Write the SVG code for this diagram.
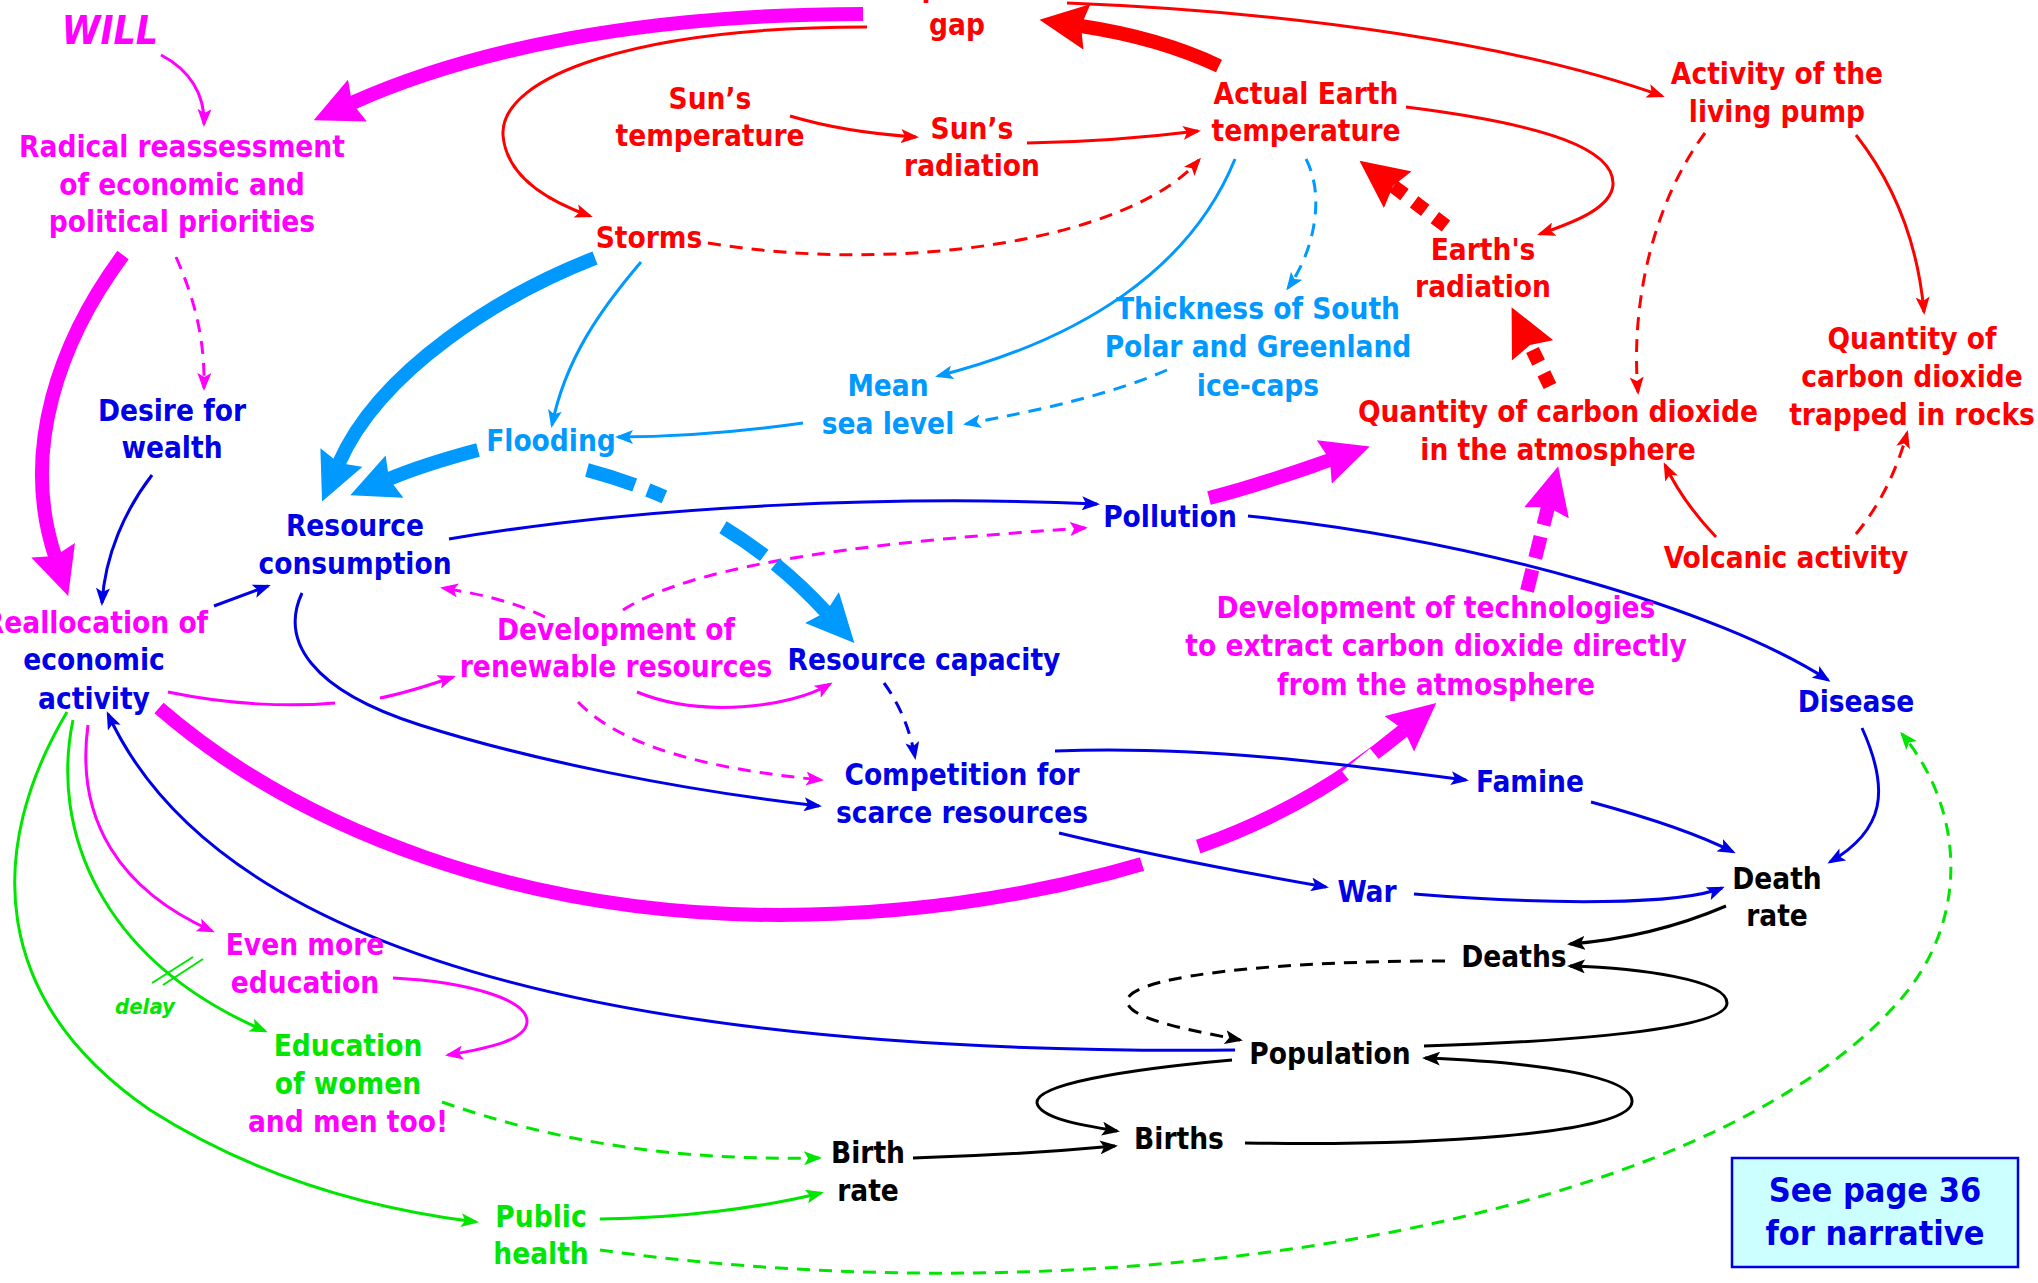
<svg xmlns="http://www.w3.org/2000/svg" width="2038" height="1283" viewBox="0 0 2038 1283">
<style>
text{font-family:"DejaVu Sans Condensed","DejaVu Sans",sans-serif;font-stretch:condensed;font-weight:bold;font-size:29.5px;text-anchor:middle}
.r{fill:#ff0000}.m{fill:#ff00ff}.l{fill:#0099ff}.b{fill:#0000e6}.k{fill:#000}.g{fill:#00e600}
path{fill:none;stroke-width:3}
.sr{stroke:#ff0000}.sm{stroke:#ff00ff}.sl{stroke:#0099ff}.sb{stroke:#0000e6}.sk{stroke:#000}.sg{stroke:#00e600}
.d{stroke-dasharray:13 9}
.t{stroke-width:14}
</style>
<defs>
<marker id="aR" viewBox="0 0 18 14" refX="15" refY="7" markerWidth="18" markerHeight="14" markerUnits="userSpaceOnUse" orient="auto"><path d="M0,0L18,7L0,14L4,7z" style="fill:#ff0000;stroke:none"/></marker>
<marker id="aM" viewBox="0 0 18 14" refX="15" refY="7" markerWidth="18" markerHeight="14" markerUnits="userSpaceOnUse" orient="auto"><path d="M0,0L18,7L0,14L4,7z" style="fill:#ff00ff;stroke:none"/></marker>
<marker id="aL" viewBox="0 0 18 14" refX="15" refY="7" markerWidth="18" markerHeight="14" markerUnits="userSpaceOnUse" orient="auto"><path d="M0,0L18,7L0,14L4,7z" style="fill:#0099ff;stroke:none"/></marker>
<marker id="aB" viewBox="0 0 18 14" refX="15" refY="7" markerWidth="18" markerHeight="14" markerUnits="userSpaceOnUse" orient="auto"><path d="M0,0L18,7L0,14L4,7z" style="fill:#0000e6;stroke:none"/></marker>
<marker id="aK" viewBox="0 0 18 14" refX="15" refY="7" markerWidth="18" markerHeight="14" markerUnits="userSpaceOnUse" orient="auto"><path d="M0,0L18,7L0,14L4,7z" style="fill:#000;stroke:none"/></marker>
<marker id="aG" viewBox="0 0 18 14" refX="15" refY="7" markerWidth="18" markerHeight="14" markerUnits="userSpaceOnUse" orient="auto"><path d="M0,0L18,7L0,14L4,7z" style="fill:#00e600;stroke:none"/></marker>
<marker id="bR" viewBox="0 0 48 46" refX="6" refY="23" markerWidth="48" markerHeight="46" markerUnits="userSpaceOnUse" orient="auto"><path d="M0,0L48,23L0,46L6,23z" style="fill:#ff0000;stroke:none"/></marker>
<marker id="bM" viewBox="0 0 48 46" refX="6" refY="23" markerWidth="48" markerHeight="46" markerUnits="userSpaceOnUse" orient="auto"><path d="M0,0L48,23L0,46L6,23z" style="fill:#ff00ff;stroke:none"/></marker>
<marker id="bL" viewBox="0 0 48 46" refX="6" refY="23" markerWidth="48" markerHeight="46" markerUnits="userSpaceOnUse" orient="auto"><path d="M0,0L48,23L0,46L6,23z" style="fill:#0099ff;stroke:none"/></marker>
</defs>

<g id="connectors">
<!-- thick magenta reallocation -> technologies, with gaps -->
<path class="sm t" d="M159,708 C300,830 520,915 780,915 C960,915 1100,880 1200,846 C1280,818 1350,775 1404,730" marker-end="url(#bM)"/>
<path d="M1142,864 L1198,846" style="stroke:#fff;stroke-width:22"/>
<path d="M1349,780 L1377,757" style="stroke:#fff;stroke-width:22"/>

<!-- red -->
<path class="sr t" d="M1219,66 Q1160,38 1081,26" marker-end="url(#bR)"/>
<path class="sr" d="M867,27 C640,27 500,75 503,135 C506,175 545,200 590,216" marker-end="url(#aR)"/>
<path class="sr" d="M1067,3 C1300,12 1520,45 1662,96" marker-end="url(#aR)"/>
<path class="sr" d="M790,116 C830,128 870,134 916,137" marker-end="url(#aR)"/>
<path class="sr" d="M1027,143 C1090,142 1150,137 1198,131" marker-end="url(#aR)"/>
<path class="sr d" d="M708,243 C900,275 1130,240 1199,160" marker-end="url(#aR)"/>
<path class="sr" d="M1406,107 C1550,125 1615,150 1613,185 C1611,208 1575,222 1540,234" marker-end="url(#aR)"/>
<path class="sr t" style="stroke-dasharray:14 12" d="M1446,226 L1393,186" marker-end="url(#bR)"/>
<path class="sr t" style="stroke-dasharray:14 12" d="M1550,386 L1530,345" marker-end="url(#bR)"/>
<path class="sr d" d="M1705,133 C1655,200 1630,300 1638,392" marker-end="url(#aR)"/>
<path class="sr" d="M1856,135 C1895,185 1918,245 1924,312" marker-end="url(#aR)"/>
<path class="sr" d="M1716,537 C1695,515 1678,492 1665,465" marker-end="url(#aR)"/>
<path class="sr d" d="M1856,534 C1880,505 1897,470 1907,433" marker-end="url(#aR)"/>

<!-- magenta -->
<path class="sm t" d="M863,14 C640,14 470,50 352,103" marker-end="url(#bM)"/>
<path class="sm" d="M161,55 C190,70 205,95 204,124" marker-end="url(#aM)"/>
<path class="sm d" d="M176,257 C195,300 205,340 204,388" marker-end="url(#aM)"/>
<path class="sm t" d="M123,255 C60,340 20,450 55,556" marker-end="url(#bM)"/>
<path class="sm d" d="M545,617 C515,602 480,594 443,588" marker-end="url(#aM)"/>
<path class="sm d" d="M623,610 C700,560 900,540 1085,528" marker-end="url(#aM)"/>
<path class="sm" d="M637,692 C700,718 790,708 830,684" marker-end="url(#aM)"/>
<path class="sm d" d="M578,702 C620,745 700,768 821,780" marker-end="url(#aM)"/>
<path class="sm" d="M168,692 C230,705 290,707 335,703"/>
<path class="sm" d="M380,698 C405,693 430,685 453,677" marker-end="url(#aM)"/>
<path class="sm" d="M88,725 C75,820 120,890 212,931" marker-end="url(#aM)"/>
<path class="sm" d="M393,978 C470,982 528,1000 527,1022 C526,1040 490,1048 448,1055" marker-end="url(#aM)"/>
<path class="sm t" style="stroke-dasharray:22 12" d="M1527,591 L1548,507" marker-end="url(#bM)"/>
<path class="sm t" d="M1209,498 C1260,485 1295,472 1330,460" marker-end="url(#bM)"/>

<!-- light blue -->
<path class="sl t" d="M595,258 C500,295 380,370 339,463" marker-end="url(#bL)"/>
<path class="sl" d="M641,262 C600,310 565,360 552,425" marker-end="url(#aL)"/>
<path class="sl t" d="M478,450 C448,458 420,466 389,479" marker-end="url(#bL)"/>
<path class="sl" d="M1235,159 C1190,270 1080,340 938,376" marker-end="url(#aL)"/>
<path class="sl d" d="M1306,159 C1325,195 1315,250 1288,288" marker-end="url(#aL)"/>
<path class="sl d" d="M1167,370 C1110,395 1040,410 966,424" marker-end="url(#aL)"/>
<path class="sl" d="M803,423 C740,432 680,437 618,437" marker-end="url(#aL)"/>
<path class="sl t" style="stroke-dasharray:50 14 18 66 50 14 80" d="M587,470 C680,495 760,540 826,612" marker-end="url(#bL)"/>

<!-- blue -->
<path class="sb" d="M152,475 C125,510 105,555 102,603" marker-end="url(#aB)"/>
<path class="sb" d="M214,606 L268,586" marker-end="url(#aB)"/>
<path class="sb" d="M449,539 C650,505 900,495 1097,504" marker-end="url(#aB)"/>
<path class="sb" d="M302,593 C280,640 310,690 420,725 C530,760 680,790 819,806" marker-end="url(#aB)"/>
<path class="sb d" d="M884,683 C900,705 910,730 915,757" marker-end="url(#aB)"/>
<path class="sb" d="M1248,516 C1480,540 1720,610 1828,680" marker-end="url(#aB)"/>
<path class="sb" d="M1055,751 C1200,745 1350,765 1466,780" marker-end="url(#aB)"/>
<path class="sb" d="M1059,833 C1150,855 1240,872 1326,887" marker-end="url(#aB)"/>
<path class="sb" d="M1591,802 C1650,818 1700,835 1733,852" marker-end="url(#aB)"/>
<path class="sb" d="M1414,894 C1550,905 1680,905 1722,888" marker-end="url(#aB)"/>
<path class="sb" d="M1862,728 C1890,790 1885,830 1830,862" marker-end="url(#aB)"/>
<path class="sb" d="M1235,1050 C700,1055 230,980 108,714" marker-end="url(#aB)"/>

<!-- black -->
<path class="sk" d="M1726,906 C1670,930 1620,940 1570,944" marker-end="url(#aK)"/>
<path class="sk d" d="M1445,961 C1280,961 1140,975 1128,998 C1120,1018 1190,1030 1240,1040" marker-end="url(#aK)"/>
<path class="sk" d="M1424,1046 C1560,1042 1727,1030 1727,1003 C1727,980 1640,968 1570,966" marker-end="url(#aK)"/>
<path class="sk" d="M1232,1060 C1120,1070 1035,1085 1037,1103 C1040,1118 1080,1125 1117,1131" marker-end="url(#aK)"/>
<path class="sk" d="M1245,1143 C1420,1146 1630,1135 1632,1102 C1634,1075 1530,1062 1425,1058" marker-end="url(#aK)"/>
<path class="sk" d="M913,1158 C980,1156 1050,1152 1115,1146" marker-end="url(#aK)"/>

<!-- green -->
<path class="sg" d="M67,712 C-15,850 -10,1000 150,1110 C260,1180 380,1210 476,1222" marker-end="url(#aG)"/>
<path class="sg" d="M73,720 C50,830 100,960 265,1031" marker-end="url(#aG)"/>
<path class="sg" style="stroke-width:2" d="M152,983 L193,957 M163,985 L203,959"/>
<path class="sg d" d="M442,1102 C580,1150 700,1160 819,1158" marker-end="url(#aG)"/>
<path class="sg" d="M600,1219 C680,1218 760,1208 821,1193" marker-end="url(#aG)"/>
<path class="sg d" d="M600,1250 C1100,1320 1700,1230 1900,1000 C1970,920 1965,810 1902,734" marker-end="url(#aG)"/>
</g>

<g id="will"><text class="m" x="110" y="44" style="font-size:39px;font-style:italic">WILL</text></g>
<g id="temperature-gap"><text class="r" x="957" y="-3">Temperature</text><text class="r" x="957" y="35">gap</text></g>
<g id="suns-temperature"><text class="r" x="710" y="109">Sun’s</text><text class="r" x="710" y="146">temperature</text></g>
<g id="suns-radiation"><text class="r" x="972" y="139">Sun’s</text><text class="r" x="972" y="176">radiation</text></g>
<g id="actual-earth-temperature"><text class="r" x="1306" y="104">Actual Earth</text><text class="r" x="1306" y="141">temperature</text></g>
<g id="living-pump"><text class="r" x="1777" y="84">Activity of the</text><text class="r" x="1777" y="122">living pump</text></g>
<g id="earths-radiation"><text class="r" x="1483" y="260">Earth's</text><text class="r" x="1483" y="297">radiation</text></g>
<g id="storms"><text class="r" x="649" y="248">Storms</text></g>
<g id="radical-reassessment"><text class="m" x="182" y="157">Radical reassessment</text><text class="m" x="182" y="195">of economic and</text><text class="m" x="182" y="232">political priorities</text></g>
<g id="ice-caps"><text class="l" x="1258" y="319">Thickness of South</text><text class="l" x="1258" y="357">Polar and Greenland</text><text class="l" x="1258" y="396">ice-caps</text></g>
<g id="co2-rocks"><text class="r" x="1912" y="349">Quantity of</text><text class="r" x="1912" y="387">carbon dioxide</text><text class="r" x="1912" y="425">trapped in rocks</text></g>
<g id="desire-for-wealth"><text class="b" x="172" y="421">Desire for</text><text class="b" x="172" y="458">wealth</text></g>
<g id="mean-sea-level"><text class="l" x="888" y="396">Mean</text><text class="l" x="888" y="434">sea level</text></g>
<g id="co2-atmosphere"><text class="r" x="1558" y="422">Quantity of carbon dioxide</text><text class="r" x="1558" y="460">in the atmosphere</text></g>
<g id="flooding"><text class="l" x="551" y="451">Flooding</text></g>
<g id="pollution"><text class="b" x="1170" y="527">Pollution</text></g>
<g id="resource-consumption"><text class="b" x="355" y="536">Resource</text><text class="b" x="355" y="574">consumption</text></g>
<g id="volcanic-activity"><text class="r" x="1786" y="568">Volcanic activity</text></g>
<g id="co2-technologies"><text class="m" x="1436" y="618">Development of technologies</text><text class="m" x="1436" y="656">to extract carbon dioxide directly</text><text class="m" x="1436" y="695">from the atmosphere</text></g>
<g id="reallocation"><text class="m" x="96" y="633">Reallocation of</text><text class="b" x="94" y="670">economic</text><text class="b" x="94" y="709">activity</text></g>
<g id="renewable-resources"><text class="m" x="616" y="640">Development of</text><text class="m" x="616" y="677">renewable resources</text></g>
<g id="resource-capacity"><text class="b" x="924" y="670">Resource capacity</text></g>
<g id="disease"><text class="b" x="1856" y="712">Disease</text></g>
<g id="competition"><text class="b" x="962" y="785">Competition for</text><text class="b" x="962" y="823">scarce resources</text></g>
<g id="famine"><text class="b" x="1530" y="792">Famine</text></g>
<g id="war"><text class="b" x="1367" y="902">War</text></g>
<g id="death-rate"><text class="k" x="1777" y="889">Death</text><text class="k" x="1777" y="926">rate</text></g>
<g id="even-more-education"><text class="m" x="305" y="955">Even more</text><text class="m" x="305" y="993">education</text></g>
<g id="deaths"><text class="k" x="1514" y="967">Deaths</text></g>
<g id="delay"><text class="g" x="145" y="1014" style="font-size:22px;font-style:italic">delay</text></g>
<g id="education"><text class="g" x="348" y="1056">Education</text><text class="g" x="348" y="1094">of women</text><text class="m" x="348" y="1132">and men too!</text></g>
<g id="population"><text class="k" x="1330" y="1064">Population</text></g>
<g id="births"><text class="k" x="1179" y="1149">Births</text></g>
<g id="birth-rate"><text class="k" x="868" y="1163">Birth</text><text class="k" x="868" y="1201">rate</text></g>
<g id="public-health"><text class="g" x="541" y="1227">Public</text><text class="g" x="541" y="1264">health</text></g>
<g id="narrative-note"><rect x="1732" y="1158" width="286" height="109" style="fill:#ccffff;stroke:#0000e6;stroke-width:2.5"/><text class="b" x="1875" y="1202" style="font-size:34px">See page 36</text><text class="b" x="1875" y="1245" style="font-size:34px">for narrative</text></g>
</svg>
